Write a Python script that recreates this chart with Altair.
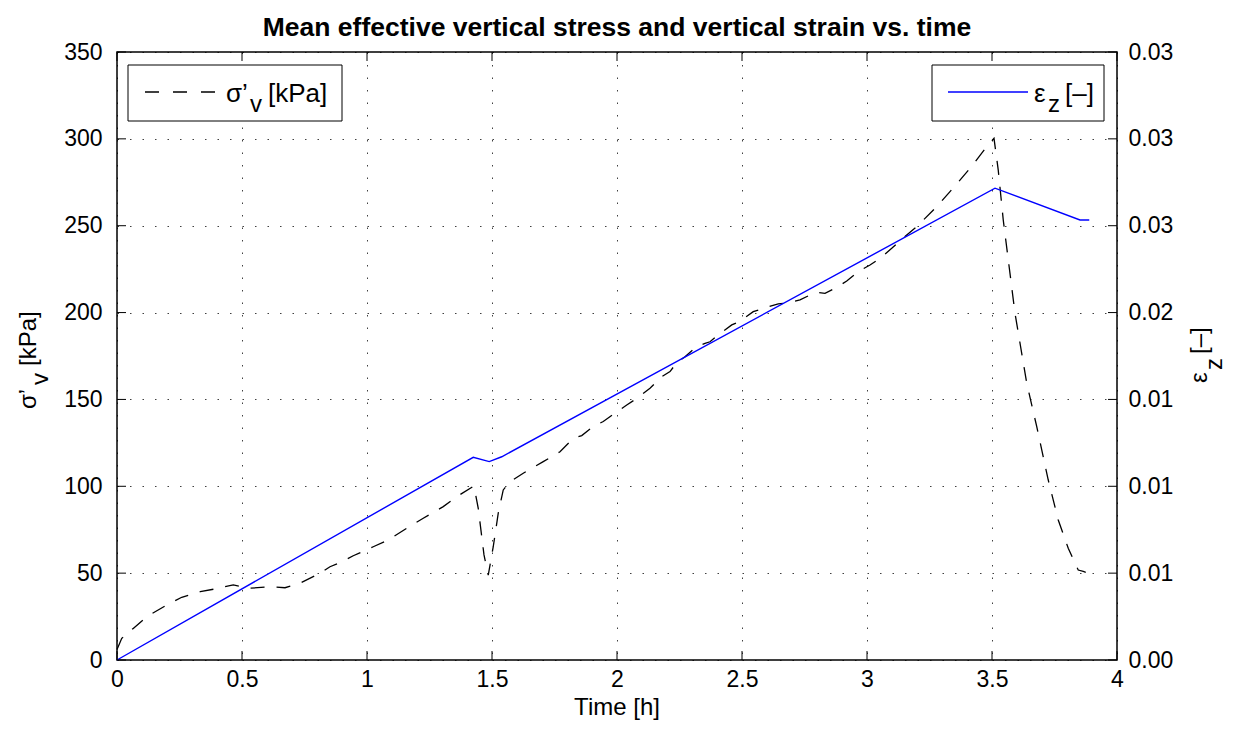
import altair as alt
import pandas as pd

TITLE = "Mean effective vertical stress and vertical strain vs. time"
X_TITLE = "Time [h]"

# Effective vertical stress [kPa] vs time [h] (dashed black)
stress_time = [0, 0.019, 0.065, 0.119, 0.199, 0.259, 0.333, 0.392, 0.465, 0.532,
               0.612, 0.672, 0.732, 0.812, 0.852, 0.892, 0.945, 1.025, 1.085, 1.172,
               1.225, 1.305, 1.359, 1.428, 1.445, 1.468, 1.485, 1.505, 1.525, 1.545,
               1.572, 1.625, 1.705, 1.772, 1.825, 1.859, 1.905, 1.945, 1.992, 2.039,
               2.079, 2.132, 2.179, 2.212, 2.239, 2.272, 2.319, 2.352, 2.372, 2.405,
               2.459, 2.492, 2.545, 2.605, 2.645, 2.685, 2.732, 2.772, 2.799, 2.832,
               2.879, 2.919, 2.965, 3.012, 3.052, 3.099, 3.145, 3.199, 3.279, 3.332,
               3.412, 3.479, 3.508, 3.525, 3.545, 3.592, 3.639, 3.679, 3.725, 3.765,
               3.805, 3.845, 3.865, 3.875]
stress_kpa = [6, 12.5, 18.2, 24.9, 31.7, 36.1, 39.3, 40.9, 43.2, 41.3,
              42.2, 41.6, 44.2, 49.9, 53.7, 56.0, 60.0, 65.2, 69.1, 77.0,
              81.6, 88.3, 94.0, 100.2, 87.3, 60.5, 48.9, 65.2, 84.5, 97.9,
              102.6, 107.5, 114.2, 119.9, 127.6, 129.2, 134.4, 137.3, 142.1, 146.8,
              150.6, 156.4, 163.1, 166.0, 171.2, 174.6, 180.4, 182.3, 183.2, 187.1,
              192.9, 195.0, 200.5, 203.4, 205.0, 205.7, 207.3, 210.1, 211.7, 211.1,
              214.5, 218.2, 223.6, 227.4, 231.2, 237.0, 243.0, 249.5, 261.0, 269.6,
              283.0, 295.5, 300.3, 282.0, 253.3, 199.6, 159.3, 134.3, 103.6, 80.6,
              64.3, 51.8, 51.0, 50.5]

# Vertical strain [-] vs time [h] (solid blue)
strain_time = [0, 1.425, 1.489, 1.539, 3.512, 3.852, 3.889]
strain_val = [0, 0.01167, 0.01142, 0.0117, 0.02716, 0.02533, 0.02533]

x_ticks = [0, 0.5, 1, 1.5, 2, 2.5, 3, 3.5, 4]
x_tick_labels = ["0", "0.5", "1", "1.5", "2", "2.5", "3", "3.5", "4"]
y_ticks = [0, 50, 100, 150, 200, 250, 300, 350]
right_ticks = [0, 0.005, 0.01, 0.015, 0.02, 0.025, 0.03, 0.035]
right_tick_labels = ["0.00", "0.01", "0.01", "0.01", "0.02", "0.03", "0.03", "0.03"]

W, H = 1000, 608
FONT = "Liberation Sans"
TICK_FS = 23
LAB_FS = 24
LEG_FS = 26

stress_df = pd.DataFrame({"t": stress_time, "s": stress_kpa})
strain_df = pd.DataFrame({"t": strain_time, "e": strain_val})
xt_df = pd.DataFrame({"t": x_ticks})
yt_df = pd.DataFrame({"v": y_ticks})
dummy = alt.Data(values=[{"a": 1}])

xscale = alt.Scale(domain=[0, 4], nice=False, zero=False)
yscale = alt.Scale(domain=[0, 350], nice=False)
escale = alt.Scale(domain=[0, 0.035], nice=False)

x_js = "[" + ",".join("'%s'" % s for s in x_tick_labels) + "]"
x_axis = alt.Axis(values=x_ticks, labelExpr=x_js + "[round(datum.value * 2)]", grid=True,
                  ticks=False, domain=False, labelPadding=8, title=None,
                  labelFlush=False, labelOverlap=False)

lbl_js = "[" + ",".join("'%s'" % s for s in right_tick_labels) + "]"

stress = alt.Chart(stress_df).mark_line(color="black", strokeWidth=1.3, strokeDash=[14, 12]).encode(
    x=alt.X("t:Q", scale=xscale, axis=x_axis),
    y=alt.Y("s:Q", scale=yscale, axis=alt.Axis(values=y_ticks, grid=True, ticks=False, domain=False,
                                               labelPadding=15, title=None, orient="left",
                                               labelFlush=False, labelOverlap=False)),
)

strain = alt.Chart(strain_df).mark_line(color="#0000ff", strokeWidth=1.4).encode(
    x=alt.X("t:Q", scale=xscale, axis=x_axis),
    y=alt.Y("e:Q", scale=escale, axis=alt.Axis(orient="right", values=right_ticks,
                                               labelExpr=lbl_js + "[round(datum.value / 0.005)]",
                                               grid=False, ticks=False, domain=False,
                                               labelPadding=11, title=None,
                                               labelFlush=False, labelOverlap=False)),
)

TL = 9
tick_bottom = alt.Chart(xt_df).mark_rule(color="black", strokeWidth=1).encode(
    x=alt.X("t:Q", scale=xscale, axis=x_axis), y=alt.value(H), y2=alt.value(H - TL))
tick_top = alt.Chart(xt_df).mark_rule(color="black", strokeWidth=1).encode(
    x=alt.X("t:Q", scale=xscale, axis=x_axis), y=alt.value(0), y2=alt.value(TL))
tick_left = alt.Chart(yt_df).mark_rule(color="black", strokeWidth=1).encode(
    y=alt.Y("v:Q", scale=yscale, axis=None), x=alt.value(0), x2=alt.value(TL))
tick_right = alt.Chart(yt_df).mark_rule(color="black", strokeWidth=1).encode(
    y=alt.Y("v:Q", scale=yscale, axis=None), x=alt.value(W), x2=alt.value(W - TL))


def txt(s, x, y, fs, angle=0, align="left", baseline="alphabetic", weight="normal"):
    return alt.Chart(dummy).mark_text(text=s, font=FONT, fontSize=fs, align=align, baseline=baseline,
                                      angle=angle, fontWeight=weight, color="black").encode(
        x=alt.value(x), y=alt.value(y))


# Legends
leg1_box = alt.Chart(dummy).mark_rect(fill="white", stroke="black", strokeWidth=1).encode(
    x=alt.value(11), x2=alt.value(225), y=alt.value(13), y2=alt.value(69))
leg1_line = alt.Chart(dummy).mark_rule(color="black", strokeWidth=1.3, strokeDash=[14, 14]).encode(
    x=alt.value(28), x2=alt.value(103), y=alt.value(40))
leg2_box = alt.Chart(dummy).mark_rect(fill="white", stroke="black", strokeWidth=1).encode(
    x=alt.value(815), x2=alt.value(987), y=alt.value(13), y2=alt.value(69))
leg2_line = alt.Chart(dummy).mark_rule(color="#0000ff", strokeWidth=1.4).encode(
    x=alt.value(831), x2=alt.value(911), y=alt.value(40))

texts = [
    txt(TITLE, W / 2, -24, 26.5, align="center", baseline="middle", weight="bold"),
    txt(X_TITLE, W / 2, 656, LAB_FS, align="center", baseline="middle"),
    # legend 1
    txt("σ’", 109, 50, LEG_FS),
    txt("v", 133, 60, 24),
    txt("[kPa]", 151, 50, LEG_FS),
    # legend 2
    txt("ε", 917, 50, LEG_FS),
    txt("z", 931, 60, 24),
    txt("[–]", 948, 50, LEG_FS),
    # left y title (rotated)
    txt("σ’", -81, 357, LAB_FS, angle=270),
    txt("v", -69, 333, LAB_FS, angle=270),
    txt("[kPa]", -81, 314, LAB_FS, angle=270),
    # right y title (rotated)
    txt("ε", 1090, 331, LAB_FS, angle=270),
    txt("z", 1105, 318, LAB_FS, angle=270),
    txt("[–]", 1090, 302, LAB_FS, angle=270),
]

chart = alt.layer(
    stress, strain, tick_bottom, tick_top, tick_left, tick_right,
    leg1_box, leg1_line, leg2_box, leg2_line, *texts
).resolve_scale(y="independent").properties(
    width=W, height=H,
    autosize=alt.AutoSizeParams(type="none"),
    padding={"left": 109, "top": 44, "right": 110, "bottom": 63},
    background="white",
).configure_view(
    stroke="black", strokeWidth=1.5
).configure_axis(
    labelFont=FONT, labelFontSize=TICK_FS, labelColor="black",
    gridColor="black", gridDash=[1.5, 11], gridOpacity=0.75, gridWidth=1,
)

chart.save("out.html", embed_options={"renderer": "svg", "actions": False})
